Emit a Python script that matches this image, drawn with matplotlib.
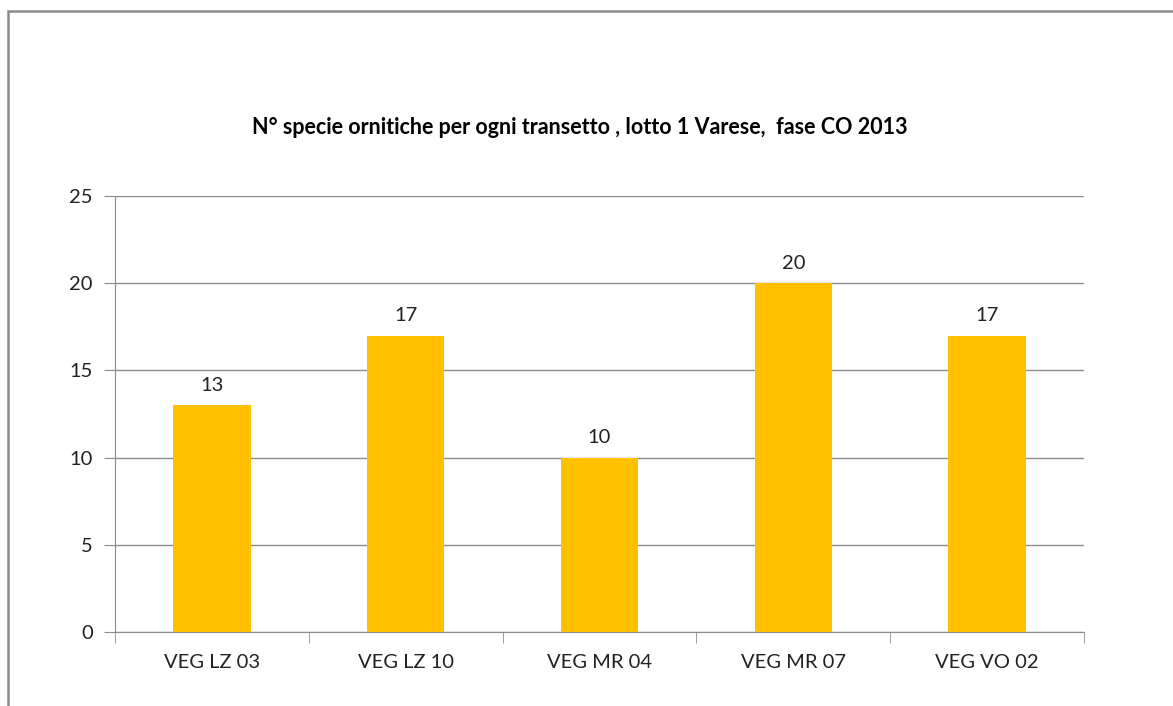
import matplotlib.pyplot as plt
from matplotlib.patches import Rectangle

# data
categories = ['VEG LZ 03', 'VEG LZ 10', 'VEG MR 04', 'VEG MR 07', 'VEG VO 02']
values = [13, 17, 10, 20, 17]
title = 'N° specie ornitiche per ogni transetto , lotto 1 Varese,  fase CO 2013'

plt.rcParams['font.family'] = ['Lato', 'DejaVu Sans']

fig = plt.figure(figsize=(11.73, 7.06), dpi=100)
ax = fig.add_axes([115/1173, 1-632/706, (1084-115)/1173, (632-196)/706])

# outer chart border (only left and top visible in the crop)
fig.patches.append(Rectangle((8/1173, -0.1), 1.2, 1-11/706+0.1, transform=fig.transFigure,
                             fill=False, edgecolor='#8c8c8c', linewidth=1.8))

x = range(len(categories))
ax.bar(x, values, width=0.4, color='#FFC000', zorder=3)
for i, v in zip(x, values):
    ax.text(i, v + 0.65, str(v), ha='center', va='bottom', fontsize=14.5, color='#222222')

ax.set_xlim(-0.5, len(categories) - 0.5)
ax.set_ylim(0, 25)
ax.set_yticks(range(0, 26, 5))
ax.yaxis.grid(True, color='#8c8c8c', linewidth=1)
ax.set_axisbelow(True)

ax.set_xticks(x)
ax.set_xticklabels(categories, fontsize=14.5, color='#222222')
ax.tick_params(axis='x', length=0, pad=16)
ax.set_xticks([i - 0.5 for i in range(len(categories) + 1)], minor=True)
ax.tick_params(axis='x', which='minor', length=8, color='#8c8c8c')
ax.tick_params(axis='y', length=8, color='#8c8c8c', labelsize=14.5, labelcolor='#222222', pad=8)

for s in ['top', 'right']:
    ax.spines[s].set_visible(False)
ax.spines['left'].set_color('#8c8c8c')
ax.spines['bottom'].set_color('#8c8c8c')

fig.text(580/1173, 1-127/706, title, ha='center', va='center', fontsize=15.5, fontweight='bold')

fig.savefig('out.png', dpi=100)
